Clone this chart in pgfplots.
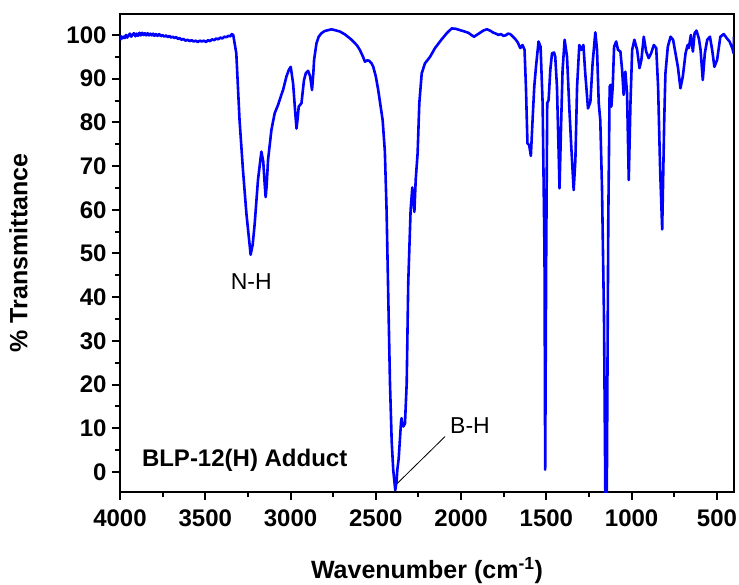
\documentclass[border=0pt]{standalone}
\usepackage{pgfplots}
\pgfplotsset{compat=1.18}
\usepackage{fontspec}
\setmainfont{Liberation Sans}
\definecolor{specblue}{RGB}{0,0,255}
\begin{document}
\begin{tikzpicture}
\path[use as bounding box] (-120pt,-92pt) rectangle (619pt,492pt);
\begin{axis}[
  scale only axis,
  width=614pt, height=478pt,
  x dir=reverse,
  xmin=400, xmax=4000,
  ymin=-4.6, ymax=104.8,
  xtick={500,1000,...,4000},
  ytick={0,10,...,100},
  minor x tick num=1,
  minor y tick num=1,
  tick align=outside,
  xtick pos=bottom,
  ytick pos=left,
  major tick length=8pt,
  minor tick length=5pt,
  every tick/.style={black, line width=2pt},
  axis line style={line width=2.5pt},
  /pgf/number format/1000 sep={},
  /pgf/number format/assume math mode=true,
  tick label style={font=\fontsize{24}{24}\selectfont\bfseries},
  xticklabel style={yshift=-6pt},
  yticklabel style={xshift=-2pt},
  xlabel={Wavenumber (cm\textsuperscript{-1})},
  ylabel={\% Transmittance},
  label style={font=\fontsize{25}{25}\selectfont\bfseries},
  xlabel style={yshift=-24pt},
  ylabel style={yshift=32pt},
]
\addplot[specblue, line width=2.6pt, line join=round] coordinates {
(4000,98.8) (3994,99.7) (3988,99.2) (3980,99.6) (3972,99.3) (3965,100.0) (3958,99.4) (3950,99.9) (3942,100.3) (3934,99.6) (3926,100.1) (3918,100.4)
(3910,99.7) (3902,100.3) (3894,99.8) (3886,100.5) (3878,99.9) (3870,100.5) (3862,100.0) (3854,100.4) (3846,99.9) (3838,100.4) (3830,99.9) (3822,100.3)
(3814,99.9) (3806,100.3) (3798,99.8) (3790,100.2) (3780,99.8) (3770,100.2) (3760,99.7) (3750,100.0) (3740,99.6) (3730,99.9) (3720,99.5) (3710,99.8)
(3700,99.4) (3690,99.6) (3680,99.3) (3670,99.5) (3660,99.1) (3650,99.3) (3640,98.9) (3628,99.1) (3616,98.7) (3604,98.9) (3592,98.6) (3580,98.8)
(3568,98.5) (3556,98.7) (3544,98.4) (3532,98.7) (3520,98.5) (3508,98.7) (3496,98.4) (3484,98.8) (3472,98.6) (3460,99.0) (3448,98.8) (3436,99.2)
(3424,99.0) (3412,99.4) (3400,99.2) (3388,99.6) (3376,99.5) (3364,99.8) (3352,99.7) (3345,100.2) (3336,100.0) (3318,95.8) (3299,80.5) (3279,69.1) (3259,59.2)
(3234,49.7) (3222,52) (3210,56.9) (3191,66.8) (3171,73.3) (3160,71) (3152,66.1) (3146,62.9)
(3140,65.5) (3132,71.4) (3112,78.3) (3093,82.1) (3073,84.0) (3054,86.3) (3044,87.4) (3024,90.5)
(3010,92) (2999,92.7) (2985,88.9) (2972,82) (2965,78.6) (2958,81) (2952,83.6) (2936,84.4)
(2921,89.7) (2910,91.3) (2897,91.8) (2885,90.5) (2874,87.4) (2866,91.5) (2862,94.3) (2848,98.1)
(2835,99.6) (2819,100.4) (2800,100.9) (2770,101.2) (2760,101.3) (2740,101.1) (2711,100.8) (2680,100.1)
(2642,98.9) (2610,97.6) (2594,96.6) (2575,95) (2564,93.9) (2550,94.2) (2539,94.1) (2525,93.5)
(2515,92.7) (2500,90.5) (2486,87.4) (2460,80.5) (2447,73.3) (2437,60) (2427,40) (2417,20.3)
(2407,7) (2398,0.5) (2386,-4.2) (2378,-2) (2374,0.5) (2366,3) (2359,7.3) (2352,11.5)
(2349,12.3) (2344,10.8) (2339,10.4) (2333,10.8) (2329,11.1) (2319,20.3) (2310,43.2) (2296,60)
(2286,65.1) (2280,62) (2274,59.5) (2266,67) (2255,72.9) (2245,84.4) (2231,91.2) (2212,93.5)
(2182,95.0) (2153,97.0) (2114,99.0) (2084,100.4) (2055,101.5) (2030,101.4) (2006,101.1) (1980,100.8)
(1957,100.5) (1940,100.0) (1924,99.6) (1905,100.1) (1889,100.5) (1870,101.0) (1849,101.3) (1830,101.0)
(1810,100.5) (1795,100.3) (1781,100.0) (1766,100.2) (1752,99.8) (1740,99.9) (1725,100.3) (1712,100.2)
(1698,99.7) (1683,99.1) (1668,98.3) (1653,97.0) (1640,97.7) (1628,96.6) (1620,88.2) (1611,75.2)
(1601,74.8) (1591,72.3) (1581,80.5) (1571,88.2) (1561,92.7) (1546,98.5) (1534,97.3) (1522,84.4)
(1511,50) (1507,0.5) (1501,50) (1495,84.4) (1487,85.1) (1477,92) (1467,95.8) (1455,96)
(1448,95) (1438,88.2) (1428,72.9) (1423,64.9) (1413,80.5) (1405,92) (1393,98.9) (1379,95)
(1364,82.1) (1354,74.4) (1340,64.5) (1330,71.4) (1320,88.2) (1307,97.7) (1295,96.6) (1283,97.7)
(1272,91.2) (1256,83.2) (1242,84.7) (1229,93.5) (1213,100.6) (1203,96.6) (1193,84.4) (1184,80.5)
(1174,65.3) (1162,34.8) (1154,-7) (1146,-7) (1137,57.7) (1129,88.2) (1123,88.6) (1119,83.6)
(1111,88.2) (1103,97.3) (1091,98.5) (1080,96.6) (1066,96.2) (1056,92) (1047,86.3) (1037,91.6)
(1027,86.7) (1017,66.8) (1007,84.4) (997,96.6) (984,98.9) (968,96.6) (954,92.4) (943,94.3)
(929,99.6) (915,96.2) (900,94.7) (886,95.8) (870,97.7) (856,97) (845,88.2) (833,69.1)
(821,55.5) (809,80.5) (802,91.2) (788,97.3) (772,99.6) (757,98.9) (743,95.8) (729,92.7)
(714,87.8) (700,90.5) (684,95.8) (672,97.7) (665,97) (653,100) (641,96.2) (631,100.4)
(620,101) (606,99.2) (596,96.6) (583,89.7) (571,95.8) (557,98.9) (541,99.6) (528,96.6)
(515,92.7) (499,94.3) (480,99.6) (460,100.2) (441,99.2) (426,98.5) (410,97) (402,95.8) (400,99.6)
};
\node[font=\fontsize{23}{23}\selectfont] at (axis cs:3230,43.5) {N-H};
\node[font=\fontsize{23}{23}\selectfont, anchor=west, inner sep=0pt] at (axis cs:2065,10.5) {B-H};
\draw[black, line width=0.8pt] (axis cs:2376,-2.7) -- (axis cs:2094,8.1);
\node[font=\fontsize{24}{24}\selectfont\bfseries] at (axis cs:3269,2.75) {BLP-12(H) Adduct};
\end{axis}
\end{tikzpicture}
\end{document}
